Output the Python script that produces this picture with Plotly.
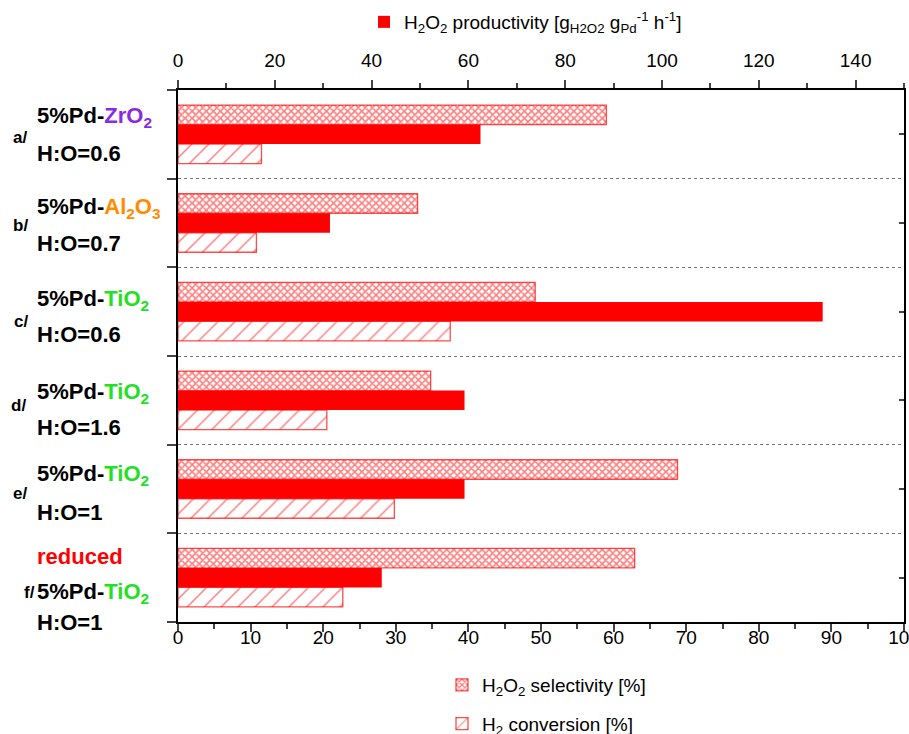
import plotly.graph_objects as go
import numpy as np

# ---------------- data ----------------
group_ids = ["a/", "b/", "c/", "d/", "e/", "f/"]
supports = ["ZrO2", "Al2O3", "TiO2", "TiO2", "TiO2", "TiO2"]
ho_ratio = ["H:O=0.6", "H:O=0.7", "H:O=0.6", "H:O=1.6", "H:O=1", "H:O=1"]
pretreatment = ["", "", "", "", "", "reduced"]
selectivity = [59.0, 33.0, 49.2, 34.8, 68.8, 62.9]      # H2O2 selectivity [%]
productivity = [62.5, 31.4, 133.2, 59.2, 59.2, 42.1]    # g_H2O2 g_Pd^-1 h^-1
conversion = [11.5, 10.8, 37.5, 20.5, 29.8, 22.7]       # H2 conversion [%]
bottom_ticks = list(range(0, 101, 10))
top_ticks = list(range(0, 141, 20))

# ---------------- styling ----------------
RED = "#FF0000"
EDGE = "rgba(255,0,0,0.7)"
support_color = {"ZrO2": "#8A2BE2", "Al2O3": "#FF8C00", "TiO2": "#22E022"}
support_html = {"ZrO2": "ZrO<sub>2</sub>", "Al2O3": "Al<sub>2</sub>O<sub>3</sub>",
                "TiO2": "TiO<sub>2</sub>"}
NARROW = "Liberation Sans Narrow, Arial Narrow, Liberation Sans, Arial"
BOLD = "Liberation Sans, Arial, sans-serif"

L, R, T, B = 178, 5, 90, 112
W, H = 909, 734
PW = W - L - R

pos = np.arange(len(group_ids))
bw = 0.22

fig = go.Figure()
fig.add_trace(go.Bar(
    y=pos, x=selectivity, orientation="h", width=bw, offset=-1.5 * bw,
    name="H<sub>2</sub>O<sub>2</sub> selectivity [%]", legend="legend2", legendgroup="sel",
    marker=dict(color="white", line=dict(color=EDGE, width=1.3),
                pattern=dict(shape="x", fgcolor=RED, bgcolor="white", size=5, solidity=0.55)),
    xaxis="x", yaxis="y"))
fig.add_trace(go.Bar(
    y=pos, x=conversion, orientation="h", width=bw, offset=0.5 * bw,
    name="H<sub>2</sub> conversion [%]", legend="legend2", legendgroup="conv",
    marker=dict(color="white", line=dict(color=EDGE, width=1.3),
                pattern=dict(shape="/", fgcolor=RED, bgcolor="white", size=12, solidity=0.12)),
    xaxis="x", yaxis="y"))
fig.add_trace(go.Bar(
    y=pos, x=productivity, orientation="h", width=bw, offset=-0.5 * bw,
    name="H<sub>2</sub>O<sub>2</sub> productivity [g<sub>H2O2</sub> g<sub>Pd</sub><sup>-1</sup> h<sup>-1</sup>]",
    legend="legend",
    marker=dict(color=RED, line=dict(color=RED, width=0)),
    xaxis="x2", yaxis="y"))
# helper trace so the right-hand axis is drawn
fig.add_trace(go.Scatter(x=[None], y=[None], yaxis="y2", xaxis="x",
                         showlegend=False, hoverinfo="skip"))

n = len(group_ids)
bounds = [i - 0.5 for i in range(n + 1)]

fig.update_layout(
    width=W, height=H,
    margin=dict(l=L, r=R, t=T, b=B, autoexpand=False),
    paper_bgcolor="white", plot_bgcolor="white",
    barmode="overlay",
    font=dict(family=NARROW, size=19, color="black"),
    xaxis=dict(range=[0, 100], tickvals=bottom_ticks, ticks="outside", ticklen=8, tickwidth=1.5,
               minor=dict(dtick=5, ticks="outside", ticklen=5, tickwidth=1.5),
               showline=True, linewidth=2, linecolor="black", showgrid=False, zeroline=False,
               automargin=False, ticklabelstandoff=-11, ticklabeloverflow="allow",
               tickfont=dict(family=NARROW, size=19)),
    xaxis2=dict(range=[0, 150], tickvals=top_ticks, overlaying="x", side="top",
                ticks="outside", ticklen=8, tickwidth=1.5,
                minor=dict(dtick=10, ticks="outside", ticklen=5, tickwidth=1.5),
                showline=True, linewidth=2, linecolor="black", showgrid=False, zeroline=False,
                automargin=False, ticklabelstandoff=5, ticklabeloverflow="allow",
                tickfont=dict(family=NARROW, size=19)),
    yaxis=dict(range=[n - 0.5, -0.5], tickvals=bounds, showticklabels=False,
               ticks="outside", ticklen=9, tickwidth=1.5,
               showgrid=True, gridcolor="#777777", griddash="dot", gridwidth=1,
               showline=True, linewidth=2, linecolor="black", zeroline=False, automargin=False),
    yaxis2=dict(range=[n - 0.5, -0.5], overlaying="y", side="right", tickvals=list(pos),
                showticklabels=False, ticks="inside", ticklen=5, tickwidth=1.5,
                showline=True, linewidth=2, linecolor="black", showgrid=False, zeroline=False,
                automargin=False),
    legend=dict(x=364 / W, y=1 - 3 / H, xref="container", yref="container",
                xanchor="left", yanchor="top", bgcolor="rgba(0,0,0,0)",
                font=dict(family=NARROW, size=19)),
    legend2=dict(x=442 / W, y=1 - 666 / H, xref="container", yref="container",
                 xanchor="left", yanchor="top", bgcolor="rgba(0,0,0,0)",
                 font=dict(family=NARROW, size=19), tracegroupgap=11),
)

# ---------------- category labels (left) ----------------
def px_to_paper_x(px):
    return (px - L) / PW

line_shifts = {  # pixel shifts of each text line relative to the group centre
    0: [17, -19], 1: [15, -20], 2: [12, -23], 3: [7, -27], 4: [14, -23], 5: [21, -15, -45]}
id_shift = [-3, -2, -10, -5, -4, -15]
id_x = [11, 11, 12, 9, 11, 22]
text_x = 35

for i in range(n):
    sup = supports[i]
    lines = []
    if pretreatment[i]:
        lines.append(f"<span style='color:{RED}'>{pretreatment[i]}</span>")
    lines.append(f"5%Pd-<span style='color:{support_color[sup]}'>{support_html[sup]}</span>")
    lines.append(ho_ratio[i])
    for txt, sh in zip(lines, line_shifts[i]):
        fig.add_annotation(x=px_to_paper_x(text_x), xref="paper", y=pos[i], yref="y",
                           yshift=sh, xanchor="left", yanchor="middle", showarrow=False,
                           text=f"<b>{txt}</b>", font=dict(family=BOLD, size=22, color="black"))
    fig.add_annotation(x=px_to_paper_x(id_x[i]), xref="paper", y=pos[i], yref="y",
                       yshift=id_shift[i], xanchor="left", yanchor="middle", showarrow=False,
                       text=f"<b>{group_ids[i]}</b>", font=dict(family=BOLD, size=17, color="black"))

fig.write_html("out.html", config={"displayModeBar": False},
               post_script="document.body.style.margin='0';document.body.style.overflow='hidden';")
